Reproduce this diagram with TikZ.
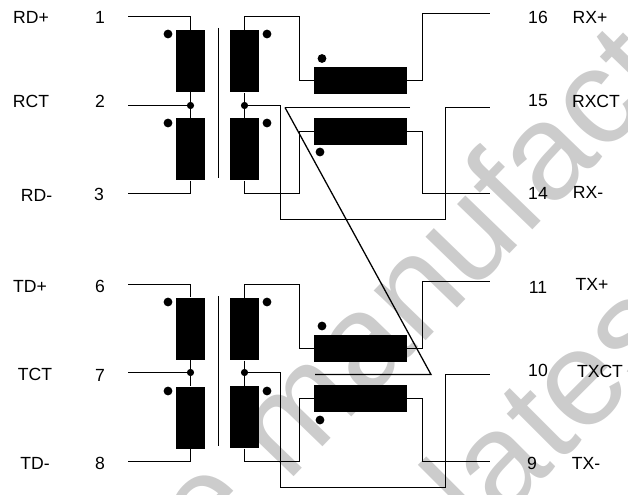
\documentclass[tikz,border=0pt]{standalone}
\usepackage{fontspec}
\setmainfont{Liberation Sans}
\begin{document}
\begin{tikzpicture}[x=0.75pt,y=-0.75pt,
  vcoil/.style={draw=none,fill=black,inner sep=0,minimum width=21.75pt,minimum height=46.5pt},
  hcoil/.style={draw=none,fill=black,inner sep=0,minimum width=69.75pt,minimum height=20.25pt},
  poldot/.style={circle,fill=black,inner sep=0,minimum size=6.6pt},
  junc/.style={circle,fill=black,inner sep=0,minimum size=5.4pt},
  wire/.style={line width=0.95pt,black},
  lbl/.style={inner sep=0,font=\fontsize{13.2}{14}\selectfont},
  wm/.style={inner sep=0,text=black!20,anchor=base west,font=\fontsize{102}{102}\selectfont}]
\useasboundingbox (0,0) rectangle (628,495);
% watermark
\begin{scope}
\clip (0,0) rectangle (628,495);
\node[wm,rotate=46] (wa) at (209,565) {e manufact};
\node[wm,rotate=45] (wb) at (481,542) {latest};
\end{scope}
% labels
\node[lbl] (l1) at (31,17) {RD+};
\node[lbl] (n1) at (100,17) {1};
\node[lbl] (l2) at (31,101) {RCT};
\node[lbl] (n2) at (100,101) {2};
\node[lbl] (l3) at (36.5,195) {RD-};
\node[lbl] (n3) at (99,194) {3};
\node[lbl] (n16) at (538,17) {16};
\node[lbl] (l16) at (590,17) {RX+};
\node[lbl] (n15) at (538,101) {15};
\node[lbl] (l15) at (596,101) {RXCT};
\node[lbl] (n14) at (538,193) {14};
\node[lbl] (l14) at (588,192) {RX-};
\node[lbl] (l6) at (30,286) {TD+};
\node[lbl] (n6) at (100,286) {6};
\node[lbl] (l7) at (35,374) {TCT};
\node[lbl] (n7) at (100,375) {7};
\node[lbl] (l8) at (35,463) {TD-};
\node[lbl] (n8) at (100,463) {8};
\node[lbl] (n11) at (538,287) {11};
\node[lbl] (l11) at (592,284) {TX+};
\node[lbl] (n10) at (538,370) {10};
\node[lbl] (l10) at (600,371) {TXCT};
\node[lbl] (n9) at (532,463) {9};
\node[lbl] (l9) at (586,463) {TX-};
% pin end points
\coordinate (p1) at (128,16.5);
\coordinate (p2) at (128,105.5);
\coordinate (p3) at (128,193.5);
\coordinate (p6) at (128,284.5);
\coordinate (p7) at (128,372.5);
\coordinate (p8) at (128,461.5);
\coordinate (p16) at (490,13.5);
\coordinate (p15) at (490,107.5);
\coordinate (p14) at (490,193.5);
\coordinate (p11) at (490,281.5);
\coordinate (p10) at (490,374.5);
\coordinate (p9) at (490,461.5);
% vertical coils
\node[vcoil] (A1) at (190.5,61) {};
\node[vcoil] (A2) at (190.5,149.5) {};
\node[vcoil] (B1) at (244.5,61.5) {};
\node[vcoil] (B2) at (244.5,149.5) {};
\node[vcoil] (C1) at (190.5,328.7) {};
\node[vcoil] (C2) at (190.5,417.5) {};
\node[vcoil] (D1) at (244.5,329.3) {};
\node[vcoil] (D2) at (244.5,417.3) {};
% horizontal coils
\node[hcoil] (E1) at (360.5,80.5) {};
\node[hcoil] (E2) at (360.5,131.5) {};
\node[hcoil] (F1) at (360.5,348.5) {};
\node[hcoil] (F2) at (360.5,398.5) {};
% junctions
\node[junc] (jA) at (190.5,105.5) {};
\node[junc] (jB) at (244.5,105.5) {};
\node[junc] (jC) at (190.5,372.5) {};
\node[junc] (jD) at (244.5,372.5) {};
% polarity dots
\node[poldot] (d1) at (168,34) {};
\node[poldot] (d2) at (168,123) {};
\node[poldot] (d3) at (267,34) {};
\node[poldot] (d4) at (267,123) {};
\node[poldot] (d5) at (322,58.5) {};
\node[poldot] (d6) at (320,152) {};
\node[poldot] (d7) at (168,302) {};
\node[poldot] (d8) at (168,391) {};
\node[poldot] (d9) at (267,302) {};
\node[poldot] (d10) at (267,391) {};
\node[poldot] (d11) at (322,326) {};
\node[poldot] (d12) at (320,420) {};
% core lines
\coordinate (k1a) at (218.5,28); \coordinate (k1b) at (218.5,178);
\coordinate (k2a) at (218.5,296); \coordinate (k2b) at (218.5,446);
\draw[wire] (k1a) -- (k1b);
\draw[wire] (k2a) -- (k2b);
% upper wiring
\draw[wire] (p1) -| (A1.north);
\draw[wire] (p2) -- (jA);
\draw[wire] (A1.south) -- (A2.north);
\draw[wire] (A2.south) |- (p3);
\coordinate (t1) at (299.5,16.5);
\draw[wire] (B1.north) |- (t1) |- (E1.west);
\draw[wire] (B1.south) -- (B2.north);
\coordinate (t2) at (299.5,193.5);
\draw[wire] (B2.south) |- (t2) |- (E2.west);
\coordinate (t3) at (422.5,80.5);
\draw[wire] (E1.east) -- (t3) |- (p16);
\coordinate (t4) at (422.5,131.5);
\draw[wire] (E2.east) -- (t4) |- (p14);
\coordinate (t5) at (280.5,105.5);
\coordinate (t6) at (445.5,219.5);
\draw[wire] (jB) -- (t5) |- (t6) |- (p15);
\coordinate (m1) at (285,107.5);
\coordinate (m2) at (410,107.5);
\draw[wire] (m2) -- (m1);
% lower wiring
\draw[wire] (p6) -| (C1.north);
\draw[wire] (p7) -- (jC);
\draw[wire] (C1.south) -- (C2.north);
\draw[wire] (C2.south) |- (p8);
\coordinate (t7) at (299.5,284.5);
\draw[wire] (D1.north) |- (t7) |- (F1.west);
\draw[wire] (D1.south) -- (D2.north);
\coordinate (t8) at (299.5,461.5);
\draw[wire] (D2.south) |- (t8) |- (F2.west);
\coordinate (t9) at (422.5,348.5);
\draw[wire] (F1.east) -- (t9) |- (p11);
\coordinate (t10) at (422.5,398.5);
\draw[wire] (F2.east) -- (t10) |- (p9);
\coordinate (t11) at (280.5,372.5);
\coordinate (t12) at (445.5,487.5);
\draw[wire] (jD) -- (t11) |- (t12) |- (p10);
\coordinate (m3) at (315,374.5);
\coordinate (m4) at (431,374.5);
\draw[wire] (m3) -- (m4) -- (m1);
\end{tikzpicture}
\end{document}
